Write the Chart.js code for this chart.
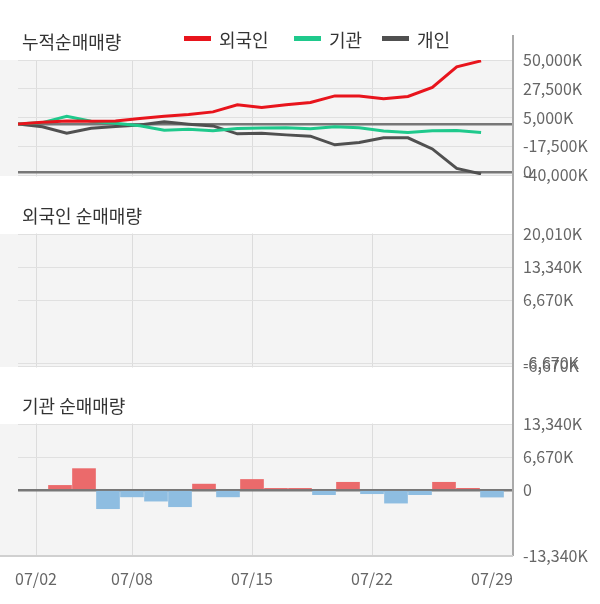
<!DOCTYPE html>
<html>
<head>
<meta charset="utf-8">
<script src="https://cdn.jsdelivr.net/npm/chart.js@4.4.1/dist/chart.umd.min.js"></script>
<style>
  html, body { margin: 0; padding: 0; background: #fff; }
  #wrap { position: relative; width: 600px; height: 604px; }
</style>
</head>
<body>
<div id="wrap"><canvas id="flowChart" width="600" height="604"></canvas></div>
<script>
// trading days shown on the x axis
const dates = ['07/02','07/03','07/04','07/05','07/08','07/09','07/10','07/11','07/12','07/15',
               '07/16','07/17','07/18','07/19','07/22','07/23','07/24','07/25','07/26','07/29'];
// cumulative net buying (K shares)
const foreignCum = [0, 1200, 2300, 2000, 2300, 4300, 5900, 7400, 9400, 14900, 12900, 14900, 16800, 21900, 21900, 19600, 21500, 28600, 44600, 49300];
const instCum = [0, 1000, 6000, 2000, 500, -1500, -5000, -4200, -5400, -3600, -3300, -3000, -3800, -2300, -3100, -5600, -6800, -5300, -5100, -6800];
const indivCum = [0, -2300, -7300, -3500, -2000, -800, 1600, -200, -1600, -7800, -7400, -8600, -9600, -16400, -14500, -10900, -10900, -19600, -34800, -39100];
// daily institution net buying (K shares)
const instDaily = [0, 930, 4320, -3780, -1390, -2250, -3380, 1190, -1390, 2130, 330, 330, -950, 1560, -750, -2650, -950, 1560, 340, -1430];
// tick labels
const cumTicks = [50000, 27500, 5000, -17500, -40000];
const foreignTicks = [20010, 13340, 6670, -6670];
const instTicks = [13340, 6670, 0, -13340];
const dateTicks = ['07/02', '07/08', '07/15', '07/22', '07/29'];
const seriesNames = ['외국인', '기관', '개인'];
const panelTitles = ['누적순매매량', '외국인 순매매량', '기관 순매매량'];

const FONT = "'Noto Sans CJK KR', 'Noto Sans', sans-serif";
Chart.defaults.font.family = FONT;

function fmtK(v) {
    return v === 0 ? '0' : v.toLocaleString('en-US') + 'K';
}
function pts(arr) {
    return arr.map((v, i) => ({ x: i, y: v }));
}

const darkLine = '#777777';
const gridLine = '#e0e0e0';
const tickFont = { size: 16 };

function yAxis(extra) {
    return Object.assign({
        position: 'right',
        stack: 'panels',
        display: true,
        afterFit: s => { s.width = 87; },
        border: { display: false },
        grid: { drawTicks: false, color: gridLine, lineWidth: 1 },
        ticks: { color: '#666', font: tickFont, padding: 10, autoSkip: false }
    }, extra);
}

const panelPlugin = {
    id: 'panels',
    beforeDraw(chart) {
        const { ctx, chartArea, scales } = chart;
        ctx.save();
        ctx.fillStyle = '#f4f4f4';
        ['yCum', 'yForeign', 'yInst'].forEach(id => {
            const s = scales[id];
            ctx.fillRect(0, s.top, chartArea.right, s.bottom - s.top + 1);
        });
        ctx.restore();
    },
    beforeDatasetsDraw(chart) {
        const { ctx, chartArea, scales } = chart;
        ctx.save();
        ctx.fillStyle = '#ffffff';
        ['gap1', 'gap2'].forEach(id => {
            const s = scales[id];
            ctx.fillRect(0, s.top + 1.5, chartArea.right, s.bottom - s.top - 2);
        });
        ctx.fillStyle = '#333';
        ctx.font = '18px ' + FONT;
        ctx.textBaseline = 'middle';
        ['yCum', 'yForeign', 'yInst'].forEach((id, i) => {
            ctx.fillText(panelTitles[i], 22, scales[id].top - 18);
        });
        ctx.restore();
    },
    afterDraw(chart) {
        const { ctx, chartArea, scales } = chart;
        ctx.save();
        // right axis line
        ctx.strokeStyle = '#aaaaaa';
        ctx.lineWidth = 2;
        ctx.beginPath();
        ctx.moveTo(chartArea.right, 35);
        ctx.lineTo(chartArea.right, chartArea.bottom);
        ctx.stroke();
        // bottom border
        ctx.strokeStyle = '#d0d0d0';
        ctx.beginPath();
        ctx.moveTo(0, scales.yInst.bottom);
        ctx.lineTo(chartArea.right, scales.yInst.bottom);
        ctx.stroke();
        // legend
        const lx = [184, 294, 382];
        ctx.font = '18px ' + FONT;
        ctx.textBaseline = 'middle';
        chart.data.datasets.slice(0, 3).forEach((ds, i) => {
            ctx.fillStyle = ds.borderColor;
            ctx.fillRect(lx[i], 36, 27, 5);
            ctx.fillStyle = '#333';
            ctx.fillText(ds.label, lx[i] + 35, 40);
        });
        ctx.restore();
    }
};

const ctx = document.getElementById('flowChart').getContext('2d');
const flowChart = new Chart(ctx, {
    type: 'bar',
    data: {
        datasets: [{
            type: 'line',
            label: seriesNames[0],
            data: pts(foreignCum),
            borderColor: '#e8141c',
            borderWidth: 3,
            pointRadius: 0,
            tension: 0,
            xAxisID: 'xLine',
            yAxisID: 'yCum'
        }, {
            type: 'line',
            label: seriesNames[1],
            data: pts(instCum),
            borderColor: '#1fc98c',
            borderWidth: 3,
            pointRadius: 0,
            tension: 0,
            xAxisID: 'xLine',
            yAxisID: 'yCum'
        }, {
            type: 'line',
            label: seriesNames[2],
            data: pts(indivCum),
            borderColor: '#505050',
            borderWidth: 3,
            pointRadius: 0,
            tension: 0,
            xAxisID: 'xLine',
            yAxisID: 'yCum'
        }, {
            label: '기관 순매매량',
            data: pts(instDaily),
            backgroundColor: c => {
                const v = c.raw ? c.raw.y : 0;
                return v > 0 ? '#eb6a6b' : (v < 0 ? '#8ebde1' : 'rgba(0,0,0,0)');
            },
            grouped: false,
            barThickness: 23,
            maxBarThickness: 23,
            xAxisID: 'x',
            yAxisID: 'yInst',
            order: 5
        }]
    },
    options: {
        responsive: false,
        animation: false,
        devicePixelRatio: 1,
        layout: { padding: { top: 60, left: 18, right: 0, bottom: 0 } },
        plugins: { legend: { display: false }, tooltip: { enabled: false } },
        scales: {
            x: {
                type: 'linear',
                position: 'bottom',
                offset: false,
                min: -0.75,
                max: 19.875,
                afterFit: s => { s.height = 48; },
                afterBuildTicks: s => { s.ticks = dateTicks.map(d => ({ value: dates.indexOf(d) })); },
                border: { display: false },
                grid: {
                    offset: false,
                    drawTicks: false,
                    color: c => c.index === dateTicks.length - 1 ? 'rgba(0,0,0,0)' : '#dcdcdc'
                },
                ticks: {
                    color: '#666', font: { size: 16 }, padding: 13, maxRotation: 0, autoSkip: false,
                    callback: v => dates[v]
                }
            },
            xLine: { type: 'linear', display: false, offset: false, grid: { offset: false }, min: 0, max: 20.31 },
            yCum: yAxis({
                weight: 1, stackWeight: 115, min: -40000, max: 50000,
                afterBuildTicks: s => {
                    s.ticks = cumTicks.map(v => ({ value: v })).concat([{ value: 0 }, { value: -37600 }]);
                },
                grid: {
                    drawTicks: false,
                    color: c => (c.tick.value === 0 || c.tick.value === -37600) ? darkLine : gridLine,
                    lineWidth: c => (c.tick.value === 0 || c.tick.value === -37600) ? 2.5 : 1
                },
                ticks: {
                    color: '#666', font: tickFont, padding: 10, autoSkip: false,
                    callback: v => v === 0 ? '' : (v === -37600 ? '0' : fmtK(v))
                }
            }),
            gap1: { type: 'linear', position: 'right', stack: 'panels', weight: 2, stackWeight: 59, display: false },
            yForeign: yAxis({
                weight: 3, stackWeight: 132, min: -6670, max: 20010,
                afterBuildTicks: s => {
                    s.ticks = foreignTicks.map(v => ({ value: v })).concat([{ value: -6070 }]);
                },
                ticks: {
                    color: '#666', font: tickFont, padding: 10, autoSkip: false,
                    callback: v => v === -6070 ? fmtK(-6670) : fmtK(v)
                }
            }),
            gap2: { type: 'linear', position: 'right', stack: 'panels', weight: 4, stackWeight: 58, display: false },
            yInst: yAxis({
                weight: 5, stackWeight: 132, min: -13340, max: 13340,
                afterBuildTicks: s => { s.ticks = instTicks.map(v => ({ value: v })); },
                grid: {
                    drawTicks: false,
                    color: c => c.tick.value === 0 ? darkLine : gridLine,
                    lineWidth: c => c.tick.value === 0 ? 2.5 : 1
                },
                ticks: {
                    color: '#666', font: tickFont, padding: 10, autoSkip: false,
                    callback: v => fmtK(v)
                }
            })
        }
    },
    plugins: [panelPlugin]
});
</script>
</body>
</html>
